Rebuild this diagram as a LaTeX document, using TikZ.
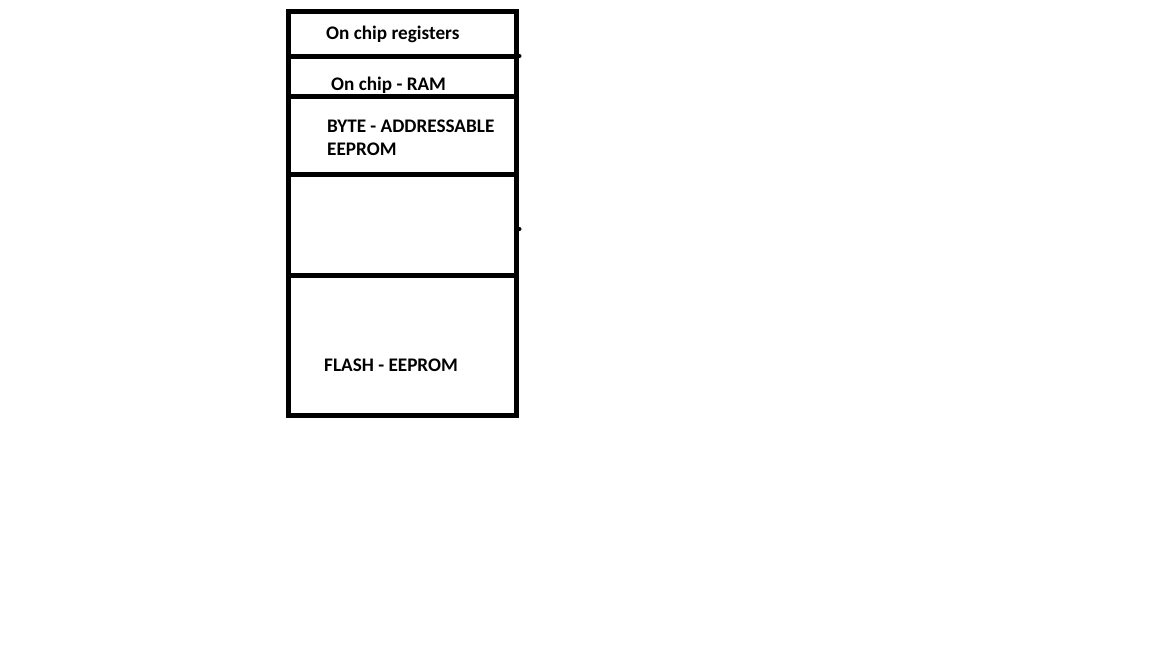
\documentclass[tikz,border=0pt]{standalone}
\usepackage{fontspec}
\setmainfont{Carlito}
\begin{document}
\begin{tikzpicture}[x=1pt,y=-1pt,
  frame/.style={line width=5pt},
  lbl/.style={font=\bfseries\fontsize{19.2}{22}\selectfont, anchor=west, inner sep=0pt, text=black}]
\useasboundingbox[fill=white] (0,0) rectangle (1152,648);
\coordinate (tl) at (288,11);
\coordinate (br) at (516,415.5);
\draw[frame] (tl) rectangle (br);
\foreach \y/\n in {56/a,96.5/b,174/c,275/d}{
  \coordinate (l\n) at (288,\y);
  \coordinate (r\n) at (516,\y);
  \draw[frame] (l\n) -- (r\n);
}
\fill (519.5,56) circle (2);
\fill (519.5,229) circle (2);
\node[lbl] (t1) at (326,34) {On chip registers};
\node[lbl] (t2) at (331,85) {On chip - RAM};
\node[lbl] (t3) at (327,126) {BYTE - ADDRESSABLE};
\node[lbl] (t4) at (327,149) {EEPROM};
\node[lbl] (t5) at (324,365) {FLASH - EEPROM};
\end{tikzpicture}
\end{document}
